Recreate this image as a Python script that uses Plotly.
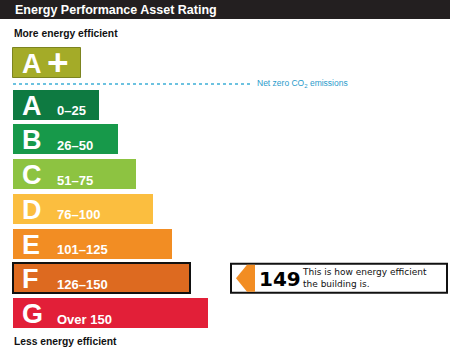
import plotly.graph_objects as go

# ---- data ----
bands = ["A+", "A", "B", "C", "D", "E", "F", "G"]
band_ranges = ["", "0–25", "26–50", "51–75", "76–100", "101–125", "126–150", "Over 150"]
band_lengths = [68, 86, 105, 123, 140, 159, 177, 195]
band_colors = ["#A4AB28", "#0E7A41", "#17994A", "#8DC341", "#FBBE3F", "#F28D23", "#DD6A20", "#E21F38"]
rating_value = 149
rating_band = "F"
title_text = "Energy Performance Asset Rating"
top_label = "More energy efficient"
bottom_label = "Less energy efficient"
netzero_label = "Net zero CO<sub>2</sub> emissions"
rating_caption = "This is how energy efficient<br>the building is."

W, H = 450, 351
X0 = 13
BAR_H = 30
PITCH = 34.75

def center_y(i):
    if i == 0:
        return 63
    return 104.5 + (i - 1) * PITCH

ys = [center_y(i) for i in range(len(bands))]
line_colors = []
line_widths = []
for b, c in zip(bands, band_colors):
    if b == rating_band:
        line_colors.append("#111111"); line_widths.append(2)
    elif b == "A+":
        line_colors.append("#7C8420"); line_widths.append(1)
    else:
        line_colors.append(c); line_widths.append(0)

fig = go.Figure()
fig.add_trace(go.Bar(
    orientation="h", y=ys, x=band_lengths, base=[X0] * len(bands), width=BAR_H,
    marker=dict(color=band_colors, line=dict(color=line_colors, width=line_widths)),
    hoverinfo="skip", showlegend=False,
))

ann = []
shapes = []
# header
shapes.append(dict(type="rect", xref="x", yref="y", x0=0, x1=W, y0=0, y1=19,
                   fillcolor="#231F20", line=dict(width=0), layer="below"))
ann.append(dict(x=13, y=9.5, text="<b>" + title_text + "</b>", showarrow=False,
                xanchor="left", yanchor="middle",
                font=dict(family="Liberation Sans, Arial", size=12.5, color="white")))
ann.append(dict(x=12, y=33, text="<b>" + top_label + "</b>", showarrow=False,
                xanchor="left", yanchor="middle",
                font=dict(family="Liberation Sans, Arial", size=10.3, color="#111111")))
ann.append(dict(x=12, y=341, text="<b>" + bottom_label + "</b>", showarrow=False,
                xanchor="left", yanchor="middle",
                font=dict(family="Liberation Sans, Arial", size=10.3, color="#111111")))

# letters and ranges
for i, (b, r, y) in enumerate(zip(bands, band_ranges, ys)):
    letter = b.rstrip("+")
    ann.append(dict(x=X0 + 7, y=y + 1, text="<b>" + letter + "</b>", showarrow=False,
                    xanchor="left", yanchor="middle",
                    font=dict(family="Liberation Sans, Arial", size=27, color="white")))
    if b.endswith("+"):
        ann.append(dict(x=X0 + 32, y=y - 1, text="<b>+</b>", showarrow=False,
                        xanchor="left", yanchor="middle",
                        font=dict(family="Liberation Sans, Arial", size=37, color="white")))
    if r:
        ann.append(dict(x=X0 + 42, y=y + 6, text="<b>" + r + "</b>", showarrow=False,
                        xanchor="left", yanchor="middle",
                        font=dict(family="Liberation Sans, Arial", size=13, color="white")))

# net zero dotted line
shapes.append(dict(type="line", xref="x", yref="y", x0=X0, x1=250, y0=84, y1=84,
                   line=dict(color="#3DAED6", width=1.5, dash="dot")))
ann.append(dict(x=255, y=83, text=netzero_label, showarrow=False,
                xanchor="left", yanchor="middle",
                font=dict(family="Liberation Sans, Arial", size=8.5, color="#2A9BCB")))

# rating indicator
ri = bands.index(rating_band)
yc = ys[ri]
shapes.append(dict(type="rect", xref="x", yref="y", x0=231, x1=447, y0=yc - 14.5, y1=yc + 14.5,
                   fillcolor="white", line=dict(color="#111111", width=2)))
path = "M 236 {m} L 247 {t} L 255 {t} L 255 {b} L 247 {b} Z".format(m=yc, t=yc - 13.5, b=yc + 13.5)
shapes.append(dict(type="path", xref="x", yref="y", path=path,
                   fillcolor="#F28D23", line=dict(width=0)))
ann.append(dict(x=257, y=yc + 1, text="<b>" + str(rating_value) + "</b>", showarrow=False,
                xanchor="left", yanchor="middle",
                font=dict(family="DejaVu Sans, Verdana", size=20, color="#000000")))
ann.append(dict(x=300, y=yc, text=rating_caption, showarrow=False,
                xanchor="left", yanchor="middle", align="left",
                font=dict(family="DejaVu Sans, Verdana", size=9, color="#111111")))

fig.update_layout(
    width=W, height=H, margin=dict(l=0, r=0, t=0, b=0),
    paper_bgcolor="white", plot_bgcolor="white",
    xaxis=dict(range=[0, W], visible=False, fixedrange=True),
    yaxis=dict(range=[H, 0], visible=False, fixedrange=True),
    shapes=shapes, annotations=ann, bargap=0,
)
fig.write_html("out.html", config={"displayModeBar": False})
